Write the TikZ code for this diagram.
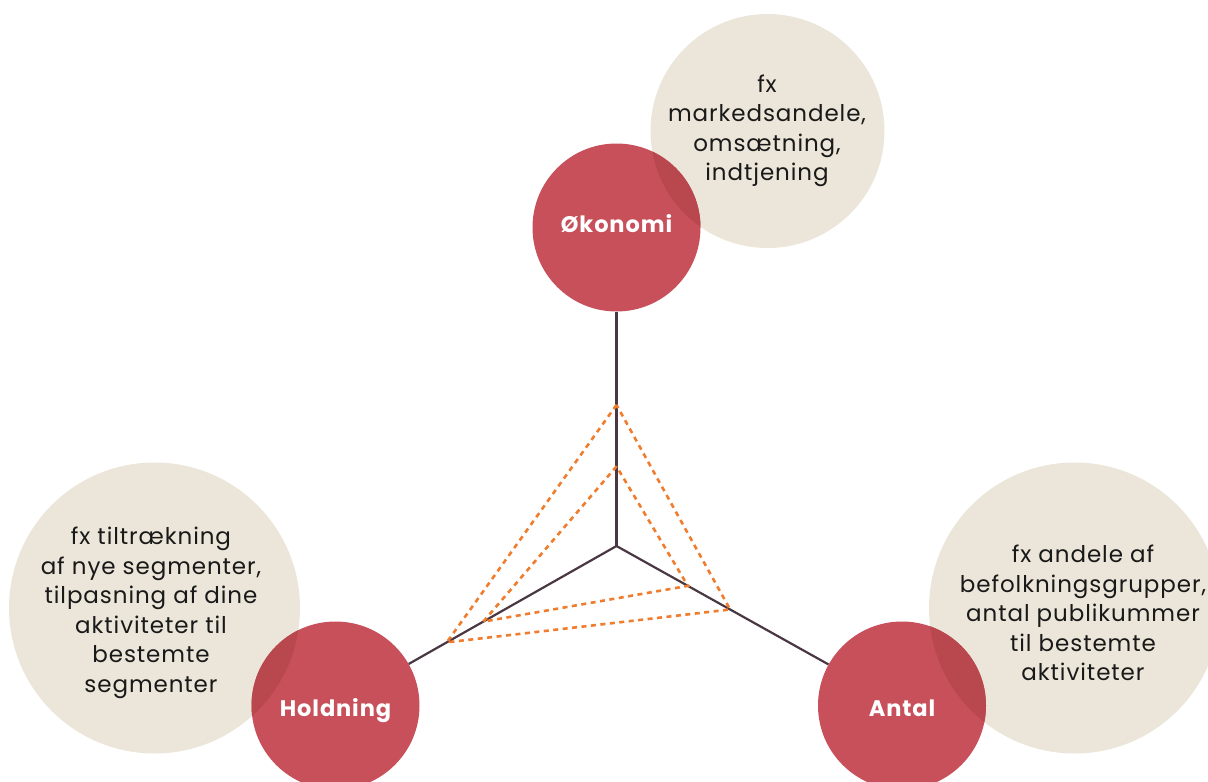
\documentclass[tikz,border=0pt]{standalone}
\usepackage{fontspec}
\setmainfont[LetterSpace=4]{Poppins}
\usetikzlibrary{calc}
\definecolor{redc}{HTML}{C7505B}
\definecolor{beige}{HTML}{EBE6D9}
\definecolor{overlapc}{HTML}{B8474E}
\definecolor{axisc}{HTML}{4B3743}
\definecolor{orangec}{HTML}{F07C2D}
\tikzset{
  beigecirc/.style={circle, fill=beige, inner sep=0pt, draw=none},
  redlabel/.style={circle, inner sep=0pt, minimum size=168pt, text=white,
    font=\fontsize{22.5}{24}\selectfont\bfseries, text height=22.4pt, text depth=0pt},
  bodytext/.style={align=center, text=black!90, font=\fontsize{23}{29.5}\selectfont},
  axisline/.style={draw=axisc, line width=2.2pt},
  dotline/.style={draw=orangec, line width=2.6pt, dash pattern=on 5pt off 4.5pt}
}
\begin{document}
\begin{tikzpicture}[x=1pt,y=-1pt]
\useasboundingbox (0,0) rectangle (1208,782);
% beige circles
\node[beigecirc, minimum size=234pt] (bt) at (767.5,131) {};
\node[beigecirc, minimum size=291pt] (bl) at (154.5,608) {};
\node[beigecirc, minimum size=291pt] (br) at (1074.5,608) {};
% red circle centres
\coordinate (okoc) at (616.5,227.5);
\coordinate (holdc) at (335.5,705.5);
\coordinate (antc) at (902,705.5);
\fill[redc] (okoc) circle[radius=84pt];
\fill[redc] (holdc) circle[radius=84pt];
\fill[redc] (antc) circle[radius=84pt];
% overlaps
\begin{scope}
  \clip (bt.center) circle[radius=117pt];
  \fill[overlapc] (okoc) circle[radius=84pt];
\end{scope}
\begin{scope}
  \clip (bl.center) circle[radius=145.5pt];
  \fill[overlapc] (holdc) circle[radius=84pt];
\end{scope}
\begin{scope}
  \clip (br.center) circle[radius=145.5pt];
  \fill[overlapc] (antc) circle[radius=84pt];
\end{scope}
% labels
\node[redlabel, text height=10.4pt] (oko) at (okoc) {Økonomi};
\node[redlabel] (hold) at (holdc) {Holdning};
\node[redlabel] (ant) at (antc) {Antal};
% texts
\node[bodytext] (tt) at (767,131) {fx\\markedsandele,\\omsætning,\\indtjening};
\node[bodytext] (tl) at (151,613) {fx tiltrækning\\af nye segmenter,\\tilpasning af dine\\aktiviteter til\\bestemte\\segmenter};
\node[bodytext] (tr) at (1083,613) {fx andele af\\befolkningsgrupper,\\antal publikummer\\til bestemte\\aktiviteter};
% axes
\coordinate (c) at (616.5,546);
\draw[axisline] (c) -- (oko);
\draw[axisline] (c) -- (hold);
\draw[axisline] (c) -- (ant);
% dotted triangles
\coordinate (o1) at ($(c)!0.443!(okoc)$);
\coordinate (o2) at ($(c)!0.604!(holdc)$);
\coordinate (o3) at ($(c)!0.398!(antc)$);
\coordinate (i1) at ($(c)!0.25!(okoc)$);
\coordinate (i2) at ($(c)!0.474!(holdc)$);
\coordinate (i3) at ($(c)!0.25!(antc)$);
\draw[dotline] (o1) -- (o2) -- (o3) -- cycle;
\draw[dotline] (i1) -- (i2) -- (i3) -- cycle;
\end{tikzpicture}
\end{document}
